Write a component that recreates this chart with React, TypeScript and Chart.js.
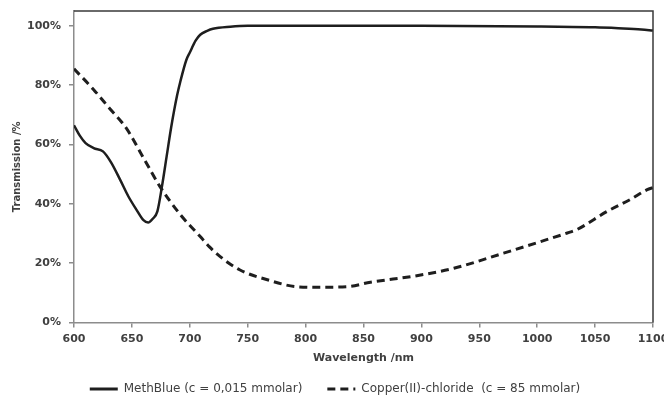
import React, { useEffect, useRef } from 'react';
import { Chart, registerables } from 'chart.js';

Chart.register(...registerables);

// ---- data ----
const methWavelengths = [600, 605, 610, 617, 625, 632, 640, 647, 654, 660, 664, 668, 672, 676, 680, 684, 689, 692, 697, 700, 705, 709, 715, 720, 735, 750, 800, 900, 1000, 1050, 1070, 1090, 1100];
const methValues = [66.5, 63, 60.5, 58.8, 57.7, 54, 48, 42.5, 38, 34.5, 33.7, 35, 37.5, 46, 56, 66, 76.5, 81.5, 88.5, 91, 95, 97, 98.3, 99, 99.7, 100, 100, 100, 99.8, 99.5, 99.2, 98.8, 98.4];

const copperWavelengths = [600, 617, 630, 645, 660, 674, 692, 709, 717, 726, 743, 769, 792, 812, 836, 856, 896, 928, 971, 1003, 1026, 1034, 1060, 1080, 1095, 1100];
const copperValues = [85.5, 78.5, 72.5, 65.6, 55.5, 46, 36.3, 29, 25.5, 22.3, 17.8, 14.2, 12.1, 11.9, 12.1, 13.6, 15.8, 18.3, 23.4, 27.3, 30.2, 31.3, 37.4, 41.4, 44.8, 45.5];

const seriesLabels = ['MethBlue (c = 0,015 mmolar)', 'Copper(II)-chloride  (c = 85 mmolar)'];
const xTicks = [600, 650, 700, 750, 800, 850, 900, 950, 1000, 1050, 1100];
const yTicks = [0, 20, 40, 60, 80, 100];
const xTitle = 'Wavelength /nm';
const yTitle = 'Transmission /%';

const toPoints = (xs: number[], ys: number[]) => xs.map((x, i) => ({ x, y: ys[i] }));

const framePlugin = {
  id: 'frame',
  afterDatasetsDraw(chart: any) {
    const { ctx, chartArea } = chart;
    const { left, right, top, bottom } = chartArea;
    ctx.save();
    ctx.strokeStyle = '#3a3a3a';
    ctx.lineWidth = 1.5;
    ctx.beginPath();
    ctx.moveTo(left, top);
    ctx.lineTo(right, top);
    ctx.lineTo(right, bottom);
    ctx.stroke();
    ctx.restore();
  },
};

export default function App() {
  const ref = useRef<HTMLCanvasElement>(null);

  useEffect(() => {
    document.body.style.margin = '0';
    const canvas = ref.current;
    if (!canvas) return;
    const lineColor = '#1e1e1e';
    const chart = new Chart(canvas, {
      type: 'line',
      data: {
        datasets: [
          {
            label: seriesLabels[0],
            data: toPoints(methWavelengths, methValues),
            borderColor: lineColor,
            backgroundColor: lineColor,
            borderWidth: 2.5,
            pointRadius: 0,
            cubicInterpolationMode: 'monotone',
            fill: false,
          },
          {
            label: seriesLabels[1],
            data: toPoints(copperWavelengths, copperValues),
            borderColor: lineColor,
            backgroundColor: lineColor,
            borderWidth: 3,
            borderDash: [8, 5],
            pointRadius: 0,
            cubicInterpolationMode: 'monotone',
            fill: false,
          },
        ],
      },
      options: {
        animation: false,
        responsive: false,
        maintainAspectRatio: false,
        layout: {
          autoPadding: false,
          padding: { top: 11, right: 11, left: 17, bottom: -7 },
        },
        plugins: {
          tooltip: { enabled: false },
          legend: {
            position: 'bottom',
            align: 'center',
            labels: {
              usePointStyle: true,
              pointStyle: 'line',
              pointStyleWidth: 28,
              padding: 25,
              color: '#404040',
              font: { family: 'DejaVu Sans', size: 12 },
              generateLabels: (c: any) => {
                const items = (Chart as any).defaults.plugins.legend.labels.generateLabels(c);
                items.forEach((it: any) => {
                  const ds = c.data.datasets[it.datasetIndex];
                  it.lineDash = ds.borderDash || [];
                  it.lineWidth = 3;
                  it.strokeStyle = ds.borderColor;
                  it.pointStyle = 'line';
                  it.lineCap = 'butt';
                });
                return items;
              },
            },
          },
        },
        scales: {
          x: {
            type: 'linear',
            min: 600,
            max: 1100,
            afterBuildTicks: (scale: any) => {
              scale.ticks = xTicks.map((v) => ({ value: v }));
            },
            afterFit: (scale: any) => {
              scale.paddingLeft = 0;
              scale.paddingRight = 0;
            },
            grid: { display: true, drawOnChartArea: false, drawTicks: true, tickLength: 5, color: '#8c8c8c', lineWidth: 1.5 },
            border: { display: true, color: '#8c8c8c', width: 1.5 },
            ticks: {
              color: '#404040',
              padding: 5,
              maxRotation: 0,
              font: { family: 'DejaVu Sans', size: 11, weight: 'bold' },
              callback: (v: any) => String(v),
            },
            title: {
              display: true,
              text: xTitle,
              color: '#404040',
              padding: { top: 1, bottom: -7 },
              font: { family: 'DejaVu Sans', size: 11, weight: 'bold' },
            },
          },
          y: {
            type: 'linear',
            min: 0,
            max: 105,
            afterBuildTicks: (scale: any) => {
              scale.ticks = yTicks.map((v) => ({ value: v }));
            },
            afterFit: (scale: any) => {
              scale.paddingTop = 0;
              scale.paddingBottom = 0;
              scale.width = 57;
            },
            grid: { display: true, drawOnChartArea: false, drawTicks: true, tickLength: 5, color: '#8c8c8c', lineWidth: 1.5 },
            border: { display: true, color: '#8c8c8c', width: 1.5 },
            ticks: {
              color: '#404040',
              padding: 8,
              font: { family: 'DejaVu Sans', size: 11, weight: 'bold' },
              callback: (v: any) => v + '%',
            },
            title: {
              display: true,
              text: yTitle,
              color: '#404040',
              padding: { top: -5.5, bottom: 0 },
              font: { family: 'DejaVu Sans', size: 10, weight: 'bold' },
            },
          },
        },
      },
      plugins: [framePlugin],
    } as any);
    return () => chart.destroy();
  }, []);

  return (
    <div style={{ width: 664, height: 398, background: '#fff', overflow: 'hidden' }}>
      <canvas ref={ref} width={664} height={398} style={{ display: 'block' }} />
    </div>
  );
}
